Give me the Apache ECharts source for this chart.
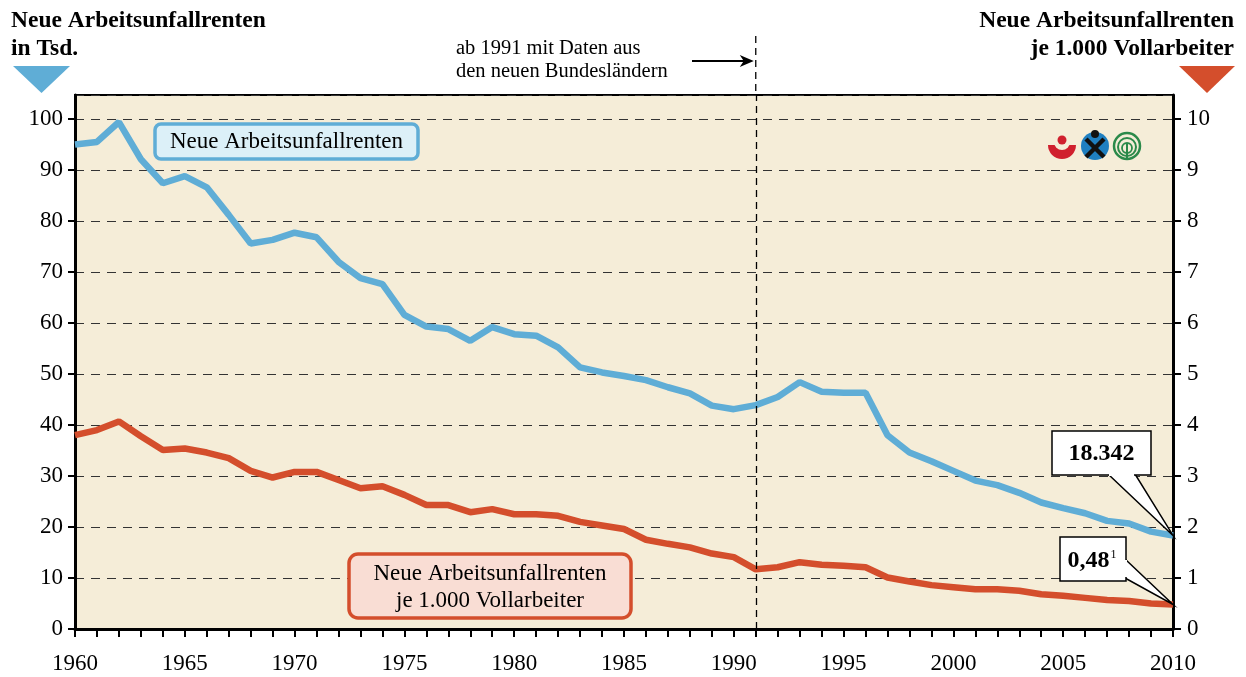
<!DOCTYPE html>
<html>
<head>
<meta charset="utf-8">
<script src="https://cdn.jsdelivr.net/npm/echarts@6/dist/echarts.min.js"></script>
<style>
  html, body { margin: 0; padding: 0; background: #fff; }
  #main { width: 1246px; height: 677px; }
</style>
</head>
<body>
<div id="main"></div>
<script>
// Jahre 1960 - 2010
var years = [];
for (var y = 1960; y <= 2010; y++) years.push(y);

// Neue Arbeitsunfallrenten in Tsd.
var renten = [95.0, 95.5, 99.4, 92.1, 87.4, 88.8, 86.6, 81.2, 75.6, 76.3,
  77.7, 76.8, 72.0, 68.8, 67.6, 61.6, 59.3, 58.8, 56.5, 59.2,
  57.8, 57.5, 55.2, 51.3, 50.3, 49.6, 48.8, 47.4, 46.2, 43.8,
  43.1, 43.9, 45.5, 48.4, 46.5, 46.3, 46.3, 38.0, 34.6, 32.9,
  31.0, 29.1, 28.2, 26.7, 24.8, 23.7, 22.7, 21.2, 20.7, 19.1,
  18.342];

// Neue Arbeitsunfallrenten je 1.000 Vollarbeiter
var quote = [3.80, 3.90, 4.07, 3.78, 3.51, 3.54, 3.46, 3.35, 3.10, 2.97,
  3.08, 3.08, 2.92, 2.76, 2.80, 2.63, 2.43, 2.43, 2.29, 2.35,
  2.25, 2.25, 2.22, 2.10, 2.03, 1.96, 1.75, 1.67, 1.60, 1.48,
  1.41, 1.17, 1.21, 1.31, 1.26, 1.24, 1.21, 1.01, 0.93, 0.86,
  0.82, 0.78, 0.78, 0.75, 0.68, 0.65, 0.61, 0.57, 0.55, 0.50,
  0.48];

var blue = '#5fadd6';
var red = '#d44e2c';
var font = '"Liberation Serif", "DejaVu Serif", serif';

function pairs(arr) {
  return arr.map(function (v, i) { return [years[i], v]; });
}

var myChart = echarts.init(document.getElementById('main'));

var option = {
  animation: false,
  textStyle: { fontFamily: font },
  grid: {
    left: 75, right: 73, top: 95, bottom: 48,
    show: true,
    backgroundColor: '#f5edd8',
    borderColor: '#000',
    borderWidth: 2
  },
  xAxis: {
    type: 'value',
    min: 1960, max: 2010, interval: 5,
    axisLine: { lineStyle: { color: '#000', width: 3 } },
    axisTick: { length: 8, lineStyle: { color: '#000', width: 2 } },
    minorTick: { show: true, splitNumber: 5, length: 8, lineStyle: { color: '#000', width: 2 } },
    splitLine: { show: false },
    axisLabel: { color: '#000', fontSize: 23, fontFamily: font, margin: 23, formatter: function (v) { return String(v); } }
  },
  yAxis: [{
    type: 'value',
    min: 0, max: 104.7, interval: 10,
    axisLine: { show: true, lineStyle: { color: '#000', width: 3 } },
    axisTick: { show: true, length: 7, lineStyle: { color: '#000', width: 2 } },
    splitLine: { show: true, lineStyle: { color: '#333', type: [9, 7], width: 1.2 } },
    axisLabel: { color: '#000', fontSize: 23, fontFamily: font, margin: 12, showMaxLabel: false }
  }, {
    type: 'value',
    min: 0, max: 10.47, interval: 1,
    position: 'right',
    axisLine: { show: true, lineStyle: { color: '#000', width: 3 } },
    axisTick: { show: true, length: 8, lineStyle: { color: '#000', width: 2 } },
    splitLine: { show: false },
    axisLabel: { color: '#000', fontSize: 23, fontFamily: font, margin: 14, showMaxLabel: false }
  }],
  series: [{
    type: 'line',
    data: pairs(renten),
    yAxisIndex: 0,
    showSymbol: false,
    lineStyle: { color: blue, width: 6.5 },
    z: 3,
    markLine: {
      silent: true,
      symbol: 'none',
      label: { show: false },
      lineStyle: { color: '#000', type: [7, 5], width: 1.3 },
      data: [{ xAxis: 1991 }]
    }
  }, {
    type: 'line',
    data: pairs(quote),
    yAxisIndex: 1,
    showSymbol: false,
    lineStyle: { color: red, width: 6.5 },
    z: 3
  }]
};

myChart.setOption(option);

// Beschriftungen und Zeichen, an den Achsen ausgerichtet
var x91 = myChart.convertToPixel({ xAxisIndex: 0 }, 1991);
var endBlue = myChart.convertToPixel({ xAxisIndex: 0, yAxisIndex: 0 }, [2010, renten[50]]);
var endRed = myChart.convertToPixel({ xAxisIndex: 0, yAxisIndex: 1 }, [2010, quote[50]]);

var g = [
  // Achsentitel
  { type: 'text', x: 11, y: 7, style: { text: 'Neue Arbeitsunfallrenten\nin Tsd.', font: 'bold 23.5px ' + font, fill: '#000', lineHeight: 28, align: 'left', verticalAlign: 'top' } },
  { type: 'polygon', shape: { points: [[13, 66], [70, 66], [41.5, 93]] }, style: { fill: blue } },
  { type: 'text', x: 1234, y: 7, style: { text: 'Neue Arbeitsunfallrenten\nje 1.000 Vollarbeiter', font: 'bold 23.5px ' + font, fill: '#000', lineHeight: 28, align: 'right', verticalAlign: 'top' } },
  { type: 'polygon', shape: { points: [[1179, 66], [1235, 66], [1207, 93]] }, style: { fill: red } },

  // 1991-Hinweis
  { type: 'line', shape: { x1: x91, y1: 36, x2: x91, y2: 95 }, style: { stroke: '#000', lineWidth: 1.3, lineDash: [7, 5] } },
  { type: 'text', x: 456, y: 60, style: { text: 'ab 1991 mit Daten aus\nden neuen Bundesländern', font: '20.5px ' + font, fill: '#000', align: 'left', verticalAlign: 'middle', lineHeight: 23 } },
  { type: 'line', shape: { x1: 692, y1: 61, x2: x91 - 6, y2: 61 }, style: { stroke: '#000', lineWidth: 2 } },
  { type: 'polygon', shape: { points: [[x91 - 2, 61], [x91 - 16, 55], [x91 - 12, 61], [x91 - 16, 67]] }, style: { fill: '#000' } },

  // Serienbeschriftungen
  { type: 'rect', shape: { x: 155, y: 124, width: 263, height: 35, r: 6 }, style: { fill: '#dcf0f8', stroke: blue, lineWidth: 3.5 }, z: 10 },
  { type: 'text', x: 286.5, y: 142, style: { text: 'Neue Arbeitsunfallrenten', font: '23px ' + font, fill: '#000', align: 'center', verticalAlign: 'middle' }, z: 11 },
  { type: 'rect', shape: { x: 349, y: 554, width: 282, height: 64, r: 9 }, style: { fill: '#f9ddd4', stroke: red, lineWidth: 3.5 }, z: 10 },
  { type: 'text', x: 490, y: 587, style: { text: 'Neue Arbeitsunfallrenten\nje 1.000 Vollarbeiter', font: '23px ' + font, fill: '#000', align: 'center', verticalAlign: 'middle', lineHeight: 27 }, z: 11 },

  // Endwert-Callouts
  { type: 'polygon', shape: { points: [[1108, 474], endBlue, [1135, 474]] }, style: { fill: '#fff', stroke: '#000', lineWidth: 1.5 }, z: 12 },
  { type: 'rect', shape: { x: 1052, y: 431, width: 99, height: 44 }, style: { fill: '#fff', stroke: '#000', lineWidth: 1.5 }, z: 12 },
  { type: 'line', shape: { x1: 1109, y1: 475, x2: 1134, y2: 475 }, style: { stroke: '#fff', lineWidth: 2 }, z: 13 },
  { type: 'text', x: 1101.5, y: 454, style: { text: '18.342', font: 'bold 24px ' + font, fill: '#000', align: 'center', verticalAlign: 'middle' }, z: 14 },

  { type: 'polygon', shape: { points: [[1125, 559], endRed, [1125, 578]] }, style: { fill: '#fff', stroke: '#000', lineWidth: 1.5 }, z: 12 },
  { type: 'rect', shape: { x: 1060, y: 537, width: 66, height: 44 }, style: { fill: '#fff', stroke: '#000', lineWidth: 1.5 }, z: 12 },
  { type: 'line', shape: { x1: 1126, y1: 560, x2: 1126, y2: 577 }, style: { stroke: '#fff', lineWidth: 2 }, z: 13 },
  { type: 'text', x: 1092, y: 561, style: {
      text: '{v|0,48}{s|1}',
      rich: { v: { font: 'bold 24px ' + font, fill: '#000', verticalAlign: 'bottom' }, s: { font: '12px ' + font, fill: '#000', verticalAlign: 'top', padding: [0, 0, 12, 1] } },
      align: 'center', verticalAlign: 'middle' }, z: 14 },

  // Logos
  { type: 'sector', shape: { cx: 1062, cy: 145, r0: 0, r: 14, startAngle: 0, endAngle: Math.PI }, style: { fill: '#d0202e' } },
  { type: 'circle', shape: { cx: 1062, cy: 142, r: 8 }, style: { fill: '#f5edd8' } },
  { type: 'circle', shape: { cx: 1062, cy: 140, r: 4.5 }, style: { fill: '#d0202e' } },
  { type: 'circle', shape: { cx: 1095, cy: 146, r: 14 }, style: { fill: '#1f7fc0' } },
  { type: 'line', shape: { x1: 1086, y1: 139, x2: 1104, y2: 157 }, style: { stroke: '#111', lineWidth: 4.5 } },
  { type: 'line', shape: { x1: 1104, y1: 139, x2: 1086, y2: 157 }, style: { stroke: '#111', lineWidth: 4.5 } },
  { type: 'circle', shape: { cx: 1095, cy: 134, r: 4 }, style: { fill: '#111' } },
  { type: 'circle', shape: { cx: 1127, cy: 146, r: 13 }, style: { fill: 'none', stroke: '#2b8a4a', lineWidth: 2.5 } },
  { type: 'circle', shape: { cx: 1127, cy: 147, r: 9 }, style: { fill: 'none', stroke: '#2b8a4a', lineWidth: 2 } },
  { type: 'circle', shape: { cx: 1127, cy: 148, r: 5 }, style: { fill: 'none', stroke: '#2b8a4a', lineWidth: 1.8 } },
  { type: 'line', shape: { x1: 1127, y1: 143, x2: 1127, y2: 158 }, style: { stroke: '#2b8a4a', lineWidth: 2 } }
];

myChart.setOption({ graphic: g });
</script>
</body>
</html>
